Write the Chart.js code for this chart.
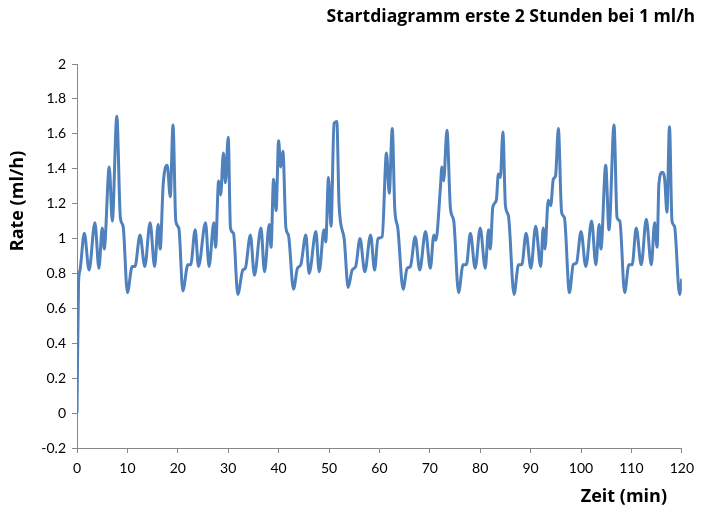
<!DOCTYPE html>
<html>
<head>
<meta charset="utf-8">
<script src="https://cdn.jsdelivr.net/npm/chart.js@4/dist/chart.umd.min.js"></script>
<style>
  html, body { margin: 0; padding: 0; background: #fff; }
  #wrap { width: 701px; height: 510px; }
</style>
</head>
<body>
<div id="wrap"><canvas id="c" width="701" height="510"></canvas></div>
<script>
// Infusion rate during the first two hours (ml/h over minutes)
const timeMin = [
  0, 0.3, 0.6, 1.45, 2.4, 3.55, 4.35, 5.0, 5.4, 6.4, 7.0, 7.9, 8.6, 9.15,
  10.0, 10.95, 11.5, 12.5, 13.45, 14.5, 15.4, 16.1, 16.5, 17.1, 17.9, 18.5, 19.05, 19.6,
  20.2, 21.0, 22.0, 22.55, 23.45, 24.1, 25.5, 26.2, 27.15, 27.5, 28.1, 28.5, 29.05, 29.45,
  30.0, 30.45, 31.05, 31.9, 32.9, 33.4, 34.4, 35.2, 36.5, 37.2, 38.15, 38.5, 39.0, 39.5,
  40.0, 40.4, 40.85, 41.45, 41.95, 42.95, 43.75, 44.4, 45.4, 46.05, 47.4, 48.05, 49.0, 49.35, 49.9,
  50.4, 51.0, 51.55, 52.0, 53.0, 53.8, 54.6, 55.3, 56.15, 57.1, 58.25, 59.05, 59.7,
  60.55, 61.4, 61.95, 62.55, 63.05, 63.65, 64.7, 65.5, 66.15, 67.1, 68.0, 69.15,
  70.1, 70.8, 71.2, 72.1, 72.4, 72.75, 73.4, 74.1, 74.75, 75.7, 76.6, 77.25, 78.05, 79.0,
  80.0, 81.0, 81.65, 82.0, 82.5, 83.2, 83.6, 84.0, 84.5, 85.0, 85.6, 86.7, 87.6, 88.25, 89.1,
  90.05, 91.0, 92.0, 92.5, 92.85, 93.5, 94.0, 94.5, 94.95, 95.5, 96.15, 96.7, 97.7, 98.45, 99.1,
  100.0, 100.95, 102.1, 102.95, 103.6, 103.95, 104.9, 105.55, 106.55, 107.15, 107.7, 108.65, 109.5,
  110.15, 110.95, 111.95, 112.95, 113.95, 114.6, 115.1, 115.45, 116.1, 116.6, 117.05, 117.55,
  118.05, 118.55, 119.55, 120.0
];
const rateMlH = [
  0, 0.74, 0.82, 1.03, 0.82, 1.09, 0.83, 1.06, 0.94, 1.41, 1.10, 1.70, 1.12, 1.07,
  0.69, 0.84, 0.84, 1.02, 0.84, 1.09, 0.84, 1.08, 0.94, 1.31, 1.42, 1.24, 1.65, 1.10,
  1.06, 0.70, 0.85, 0.85, 1.05, 0.84, 1.09, 0.84, 1.09, 0.95, 1.33, 1.25, 1.49, 1.32,
  1.58, 1.06, 1.03, 0.68, 0.82, 0.83, 1.02, 0.79, 1.06, 0.81, 1.08, 0.95, 1.34, 1.16,
  1.56, 1.41, 1.50, 1.06, 1.02, 0.71, 0.83, 0.85, 1.02, 0.80, 1.04, 0.81, 1.05, 0.98, 1.35,
  1.07, 1.66, 1.67, 1.19, 1.00, 0.72, 0.82, 0.84, 1.00, 0.81, 1.02, 0.82, 1.00,
  1.01, 1.49, 1.26, 1.63, 1.17, 1.06, 0.71, 0.83, 0.84, 1.01, 0.82, 1.04,
  0.83, 1.02, 0.99, 1.29, 1.41, 1.33, 1.62, 1.17, 1.10, 0.69, 0.85, 0.85, 1.03, 0.83,
  1.06, 0.83, 1.05, 0.94, 1.18, 1.22, 1.37, 1.35, 1.61, 1.19, 1.13, 0.68, 0.85, 0.85, 1.03,
  0.83, 1.07, 0.84, 1.06, 0.94, 1.22, 1.19, 1.34, 1.36, 1.63, 1.15, 1.12, 0.69, 0.85, 0.86,
  1.04, 0.84, 1.10, 0.85, 1.08, 0.94, 1.42, 1.05, 1.65, 1.12, 1.10, 0.69, 0.85,
  0.85, 1.06, 0.85, 1.11, 0.85, 1.09, 0.95, 1.31, 1.38, 1.34, 1.15, 1.64,
  1.10, 1.07, 0.68, 0.77
];
const xTicks = { min: 0, max: 120, step: 10 };
const yTicks = { min: -0.2, max: 2, step: 0.2 };

const chartTitle = 'Startdiagramm erste 2 Stunden bei 1 ml/h';
const xTitle = 'Zeit (min)';
const yTitle = 'Rate (ml/h)';

const points = timeMin.map((t, i) => ({ x: t, y: rateMlH[i] }));

const FONT = 'Lato, "Open Sans", sans-serif';
const TITLE_FONT = '"Open Sans", Lato, sans-serif';
const AXIS_GREY = '#878787';

// Titles placed like the spreadsheet layout (offset from the plot centre)
const titlesPlugin = {
  id: 'sheetTitles',
  afterDraw(chart) {
    const ctx = chart.ctx;
    ctx.save();
    ctx.fillStyle = '#000';
    ctx.textBaseline = 'middle';

    ctx.font = 'bold 17.6px ' + TITLE_FONT;
    ctx.textAlign = 'right';
    ctx.fillText(chartTitle, 695, 17);

    ctx.font = 'bold 18px ' + TITLE_FONT;
    ctx.textAlign = 'right';
    ctx.fillText(xTitle, 667, 497);

    ctx.translate(18, 201);
    ctx.rotate(-Math.PI / 2);
    ctx.textAlign = 'center';
    ctx.fillText(yTitle, 0, 0);
    ctx.restore();
  }
};

new Chart(document.getElementById('c'), {
  type: 'line',
  data: {
    datasets: [{
      data: points,
      borderColor: '#4F81BD',
      borderWidth: 3,
      pointRadius: 0,
      fill: false,
      cubicInterpolationMode: 'monotone'
    }]
  },
  options: {
    responsive: false,
    devicePixelRatio: 1,
    animation: false,
    layout: { padding: { top: 64, right: 17, left: 0, bottom: 0 } },
    plugins: { legend: { display: false }, tooltip: { enabled: false }, title: { display: false } },
    scales: {
      x: {
        type: 'linear',
        min: xTicks.min,
        max: xTicks.max,
        afterFit(s) { s.height = 62; },
        border: { color: AXIS_GREY, width: 1 },
        grid: { drawOnChartArea: false, drawTicks: true, tickLength: 5, color: AXIS_GREY },
        ticks: {
          stepSize: xTicks.step,
          padding: 7,
          color: '#000',
          font: { family: FONT, size: 14 },
          maxRotation: 0,
          callback: v => String(v)
        }
      },
      y: {
        type: 'linear',
        min: yTicks.min,
        max: yTicks.max,
        afterFit(s) { s.width = 77; },
        border: { color: AXIS_GREY, width: 1 },
        grid: { drawOnChartArea: false, drawTicks: true, tickLength: 5, color: AXIS_GREY },
        ticks: {
          stepSize: yTicks.step,
          padding: 6,
          color: '#000',
          font: { family: FONT, size: 14 },
          callback: v => String(Number(v.toFixed(1)))
        }
      }
    }
  },
  plugins: [titlesPlugin]
});
</script>
</body>
</html>
